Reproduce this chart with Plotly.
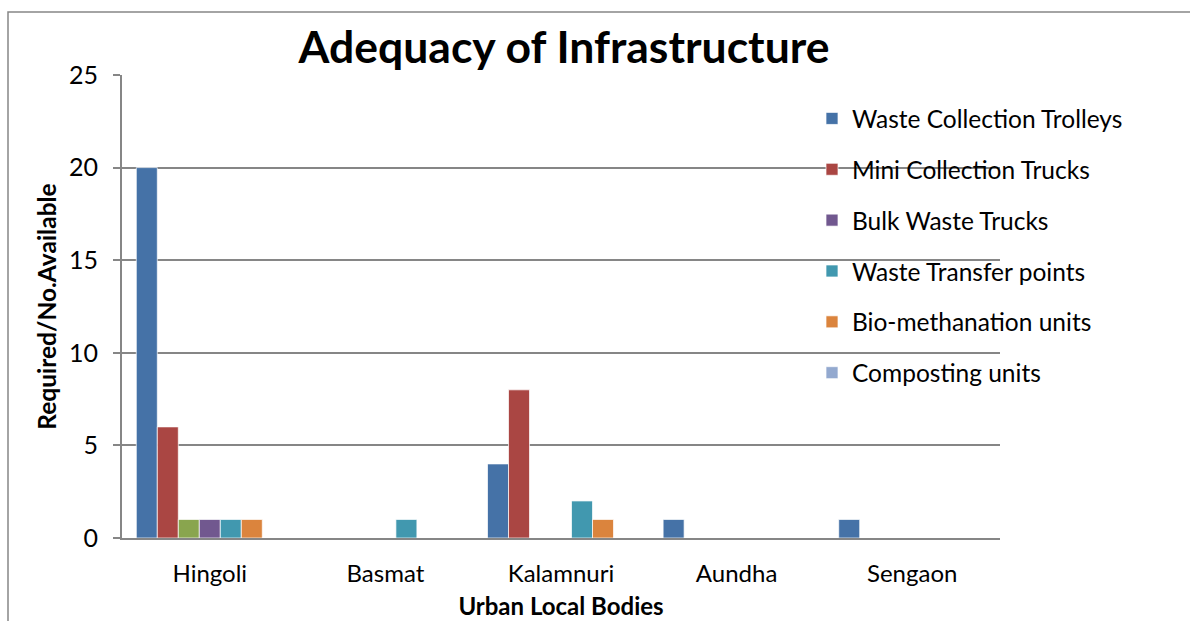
import plotly.graph_objects as go

categories = ["Hingoli", "Basmat", "Kalamnuri", "Aundha", "Sengaon"]
series_names = ["Waste Collection Trolleys", "Mini Collection Trucks", "Series 3",
                "Bulk Waste Trucks", "Waste Transfer points", "Bio-methanation units",
                "Composting units"]
trolleys = [20, 0, 4, 1, 1]
mini_trucks = [6, 0, 8, 0, 0]
series3 = [1, 0, 0, 0, 0]
bulk_trucks = [1, 0, 0, 0, 0]
transfer_points = [1, 1, 2, 0, 0]
biomethanation = [1, 0, 1, 0, 0]
composting = [0, 0, 0, 0, 0]
values = [trolleys, mini_trucks, series3, bulk_trucks, transfer_points, biomethanation, composting]
colors = ["#4572A7", "#AA4643", "#89A54E", "#71588F", "#4198AF", "#DB843D", "#93A9CF"]
in_legend = [True, True, False, True, True, True, True]
y_ticks = [0, 5, 10, 15, 20, 25]

FONT = "Lato, Calibri, Carlito, sans-serif"

fig = go.Figure()
for i, (name, vals, col, leg) in enumerate(zip(series_names, values, colors, in_legend)):
    fig.add_trace(go.Bar(
        x=categories, y=vals, name=name, marker_color=col,
        marker_line=dict(color="rgba(255,255,255,0.7)", width=1),
        showlegend=leg, legendgroup=f"g{i}",
    ))

L, T, R, B = 122, 75, 190, 83
W, H = 1190, 621
pw, ph = W - L - R, H - T - B

def px_x(x):
    return (x - L) / pw

def px_y(y):
    return (H - B - y) / ph

fig.update_layout(
    width=W, height=H,
    margin=dict(l=L, r=R, t=T, b=B),
    paper_bgcolor="white", plot_bgcolor="white",
    barmode="group", bargap=0.163, bargroupgap=0,
    font=dict(family=FONT, color="black", size=24),
    title=dict(text="<b>Adequacy of Infrastructure</b>", x=564 / W,
               xanchor="center", y=1 - 47 / H, yanchor="middle",
               font=dict(size=44.5, family=FONT, color="black")),
    legend=dict(x=px_x(812), y=px_y(96), xanchor="left", yanchor="top",
                traceorder="grouped", tracegroupgap=16,
                bgcolor="rgba(0,0,0,0)", font=dict(size=24.5, family=FONT, color="black")),
    xaxis=dict(showline=True, linecolor="#868686", linewidth=2, ticks="", automargin=False,
               tickfont=dict(size=24), ticklabelstandoff=13,
               title=dict(text="<b>Urban Local Bodies</b>", font=dict(size=24), standoff=12)),
    yaxis=dict(range=[0, 25], tickvals=y_ticks, showline=True, linecolor="#868686", linewidth=2,
               ticks="outside", ticklen=7, tickcolor="#868686", tickwidth=2, automargin=False,
               showgrid=True, gridcolor="#868686", gridwidth=1.5, zeroline=False,
               tickfont=dict(size=25), ticklabelstandoff=10,
               title=dict(text="<b>Required/No.Available</b>", font=dict(size=24.5), standoff=5)),
    shapes=[dict(type="rect", xref="paper", yref="paper",
                 x0=px_x(8), x1=px_x(1195), y0=px_y(640), y1=px_y(12),
                 line=dict(color="#868686", width=1.5), fillcolor="rgba(0,0,0,0)", layer="below")],
)

fig.write_html("out.html", config={"displayModeBar": False},
               post_script="document.body.style.margin='0';")
